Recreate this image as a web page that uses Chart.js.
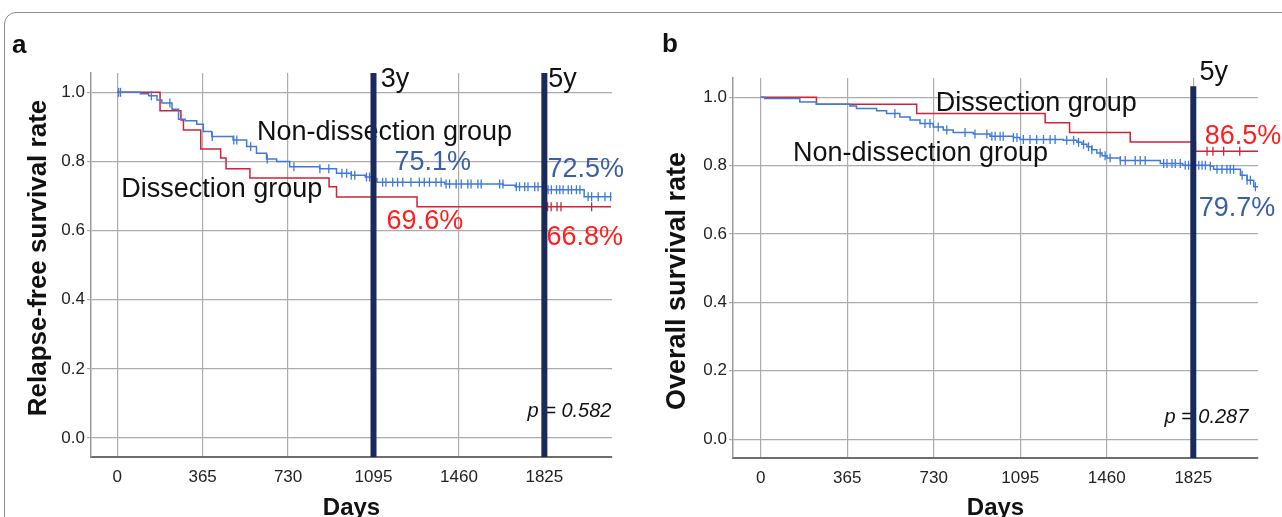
<!DOCTYPE html>
<html>
<head>
<meta charset="utf-8">
<script src="https://cdn.jsdelivr.net/npm/chart.js@4/dist/chart.umd.min.js"></script>
<style>
  body { margin: 0; background: #fff; width: 1282px; height: 517px; overflow: hidden; position: relative; font-family: "Liberation Sans", Arial, sans-serif; }
  #frame { position: absolute; left: 4px; top: 12px; width: 1320px; height: 600px; border: 1.5px solid #8c8c8c; border-radius: 12px; }
  .letter { position: absolute; font-weight: bold; font-size: 26px; color: #111; }
  canvas { position: absolute; top: 0; }
</style>
</head>
<body>
<div id="frame"></div>
<canvas id="chartA" width="640" height="517" style="left:0"></canvas>
<canvas id="chartB" width="642" height="517" style="left:640px"></canvas>
<div class="letter" style="left:12px; top:29px">a</div>
<div class="letter" style="left:662px; top:28px">b</div>
<script>
// ---- data (days, survival) ----
const dayTicks = [0, 365, 730, 1095, 1460, 1825];
const rateTicks = [0, 0.2, 0.4, 0.6, 0.8, 1.0];

// panel a: relapse-free survival
const aDissDays = [0, 183, 272, 283, 357, 442, 465, 567, 905, 937, 1281, 2110];
const aDissSurv = [1.0, 0.947, 0.920, 0.891, 0.836, 0.810, 0.779, 0.752, 0.727, 0.697, 0.669, 0.669];
const aDissCensor = [1839, 1854, 1879, 1896, 2027];

const aNonDays = [0, 99, 134, 170, 191, 234, 262, 290, 340, 368, 404, 495, 553, 595, 638, 681, 737, 865, 937, 1000, 1060, 1093, 1110, 1400, 1650, 1700, 1830, 1995, 2112];
const aNonSurv = [1.0, 0.996, 0.990, 0.978, 0.969, 0.951, 0.922, 0.918, 0.908, 0.887, 0.872, 0.862, 0.843, 0.824, 0.807, 0.800, 0.785, 0.779, 0.766, 0.760, 0.755, 0.751, 0.740, 0.735, 0.731, 0.727, 0.718, 0.698, 0.698];
const aNonCensor = [6, 14, 146, 225, 406, 498, 511, 570, 641, 755, 866, 904, 960, 980, 1000, 1015, 1065, 1078, 1091, 1134, 1148, 1177, 1198, 1220, 1255, 1291, 1312, 1334, 1362, 1384, 1405, 1420, 1448, 1470, 1498, 1512, 1541, 1555, 1634, 1648, 1705, 1719, 1741, 1755, 1784, 1798, 1827, 1841, 1855, 1877, 1891, 1905, 1927, 1941, 1962, 1977, 2012, 2027, 2055, 2084, 2108];

// panel b: overall survival
const bDissDays = [0, 235, 658, 1200, 1303, 1559, 1834, 2105];
const bDissSurv = [1.0, 0.979, 0.952, 0.925, 0.897, 0.869, 0.842, 0.842];
const bDissCensor = [1883, 1908, 1953, 2021];

const bNonDays = [0, 17, 165, 235, 376, 404, 489, 531, 587, 630, 672, 728, 770, 812, 897, 967, 1066, 1094, 1277, 1334, 1355, 1376, 1397, 1418, 1440, 1461, 1517, 1686, 1780, 1897, 1911, 2024, 2052, 2080, 2105];
const bNonSurv = [1.0, 0.996, 0.986, 0.979, 0.974, 0.967, 0.960, 0.952, 0.942, 0.933, 0.923, 0.913, 0.904, 0.897, 0.892, 0.886, 0.882, 0.876, 0.874, 0.868, 0.862, 0.855, 0.846, 0.837, 0.829, 0.822, 0.815, 0.806, 0.801, 0.798, 0.789, 0.772, 0.757, 0.738, 0.738];
const bNonCensor = [566, 693, 714, 749, 785, 862, 904, 954, 975, 989, 1010, 1023, 1066, 1081, 1108, 1136, 1164, 1193, 1221, 1242, 1291, 1320, 1341, 1362, 1383, 1397, 1432, 1453, 1474, 1517, 1538, 1580, 1601, 1622, 1700, 1714, 1735, 1749, 1770, 1791, 1805, 1826, 1848, 1862, 1876, 1897, 1925, 1946, 1967, 1981, 1995, 2031, 2052, 2066, 2087, 2101];

const RED = '#cc2438';
const BLUE = '#3f7ad8';
const NAVY = '#1a2a5c';
const FONT = '"Liberation Sans", Arial, sans-serif';

Chart.defaults.font.family = FONT;

function toPoints(days, surv) {
    return days.map((d, i) => ({ x: d, y: surv[i] }));
}

// value of the step curve at a given day
function survAt(days, surv, t) {
    let v = surv[0];
    for (let i = 0; i < days.length; i++) {
        if (days[i] <= t) v = surv[i];
    }
    return v;
}

function censorPoints(days, surv, marks) {
    return marks.map(t => ({ x: t, y: survAt(days, surv, t) }));
}

// free text: notes sit at data coordinates, the side title at a canvas position
function notesPlugin(items, side) {
    return {
        id: 'notes',
        beforeDatasetsDraw(chart) {
            const { ctx, scales: { x, y } } = chart;
            ctx.save();
            ctx.textAlign = 'left';
            ctx.textBaseline = 'middle';
            items.forEach(n => {
                ctx.font = n.font;
                ctx.fillStyle = n.color;
                ctx.fillText(n.text, x.getPixelForValue(n.x), y.getPixelForValue(n.y));
            });
            ctx.translate(side.cx, side.cy);
            ctx.rotate(-Math.PI / 2);
            ctx.textAlign = 'center';
            ctx.font = side.font;
            ctx.fillStyle = '#111';
            ctx.fillText(side.text, 0, 0);
            ctx.restore();
        }
    };
}

function kmLine(days, surv, color) {
    return {
        type: 'line',
        data: toPoints(days, surv),
        borderColor: color,
        borderWidth: 1.5,
        stepped: 'before',
        pointRadius: 0,
        fill: false,
        order: 2
    };
}

function censorSet(days, surv, marks, color) {
    return {
        type: 'scatter',
        data: censorPoints(days, surv, marks),
        borderColor: color,
        backgroundColor: color,
        pointStyle: 'line',
        rotation: 90,
        pointRadius: 4.5,
        borderWidth: 1.3,
        order: 1
    };
}

function refLine(day, yTop, yBottom) {
    return {
        type: 'line',
        data: [{ x: day, y: yBottom }, { x: day, y: yTop }],
        borderColor: NAVY,
        borderWidth: 6,
        pointRadius: 0,
        order: 0
    };
}

function makeChart(id, cfg) {
    new Chart(document.getElementById(id), {
        type: 'line',
        data: { datasets: cfg.datasets },
        options: {
            responsive: false,
            animation: false,
            devicePixelRatio: 1,
            layout: { padding: { top: cfg.top, right: cfg.right, bottom: 0, left: 0 } },
            plugins: { legend: { display: false }, tooltip: { enabled: false } },
            scales: {
                x: {
                    type: 'linear',
                    min: cfg.xMin,
                    max: cfg.xMax,
                    afterBuildTicks: s => { s.ticks = dayTicks.map(v => ({ value: v })); },
                    afterFit: s => { s.height = cfg.xHeight; },
                    ticks: { font: { size: 17 }, color: '#222', padding: 10, maxRotation: 0, callback: v => String(v) },
                    grid: { color: '#acacac', lineWidth: 1.2, drawTicks: false },
                    border: { color: '#6e6e6e', width: 2 },
                    title: { display: true, text: 'Days', font: { size: 24, weight: 'bold' }, color: '#111', padding: { top: 0, bottom: -6 } }
                },
                y: {
                    min: -0.055,
                    max: 1.056,
                    afterBuildTicks: s => { s.ticks = rateTicks.map(v => ({ value: v })); },
                    afterFit: s => { s.width = cfg.yWidth; },
                    ticks: { font: { size: 17 }, color: '#222', padding: 2, callback: v => v.toFixed(1) },
                    grid: { color: '#acacac', lineWidth: 1.2, tickLength: 4 },
                    border: { color: '#9a9a9a', width: 1.5 },
                    title: { display: false }
                }
            }
        },
        plugins: [notesPlugin(cfg.notes, cfg.side)]
    });
}

const big = '27px ' + FONT;
const ital = 'italic 20px ' + FONT;
const TXT_BLUE = '#3a5ea8';
const TXT_RED = '#ff1e1e';

makeChart('chartA', {
    top: 73, right: 28, xHeight: 60, yWidth: 91,
    xMin: -112, xMax: 2114,
    side: { text: 'Relapse-free survival rate', cx: 39, cy: 258, font: 'bold 26px ' + FONT },
    datasets: [
        refLine(1095, 1.056, -0.055),
        refLine(1825, 1.056, -0.055),
        censorSet(aNonDays, aNonSurv, aNonCensor, BLUE),
        censorSet(aDissDays, aDissSurv, aDissCensor, RED),
        kmLine(aNonDays, aNonSurv, BLUE),
        kmLine(aDissDays, aDissSurv, RED)
    ],
    notes: [
        { text: 'Non-dissection group', x: 597, y: 0.883, font: big, color: '#111' },
        { text: 'Dissection group', x: 17, y: 0.718, font: big, color: '#111' },
        { text: '75.1%', x: 1185, y: 0.796, font: big, color: TXT_BLUE },
        { text: '72.5%', x: 1838, y: 0.776, font: big, color: TXT_BLUE },
        { text: '69.6%', x: 1151, y: 0.625, font: big, color: TXT_RED },
        { text: '66.8%', x: 1834, y: 0.579, font: big, color: TXT_RED },
        { text: '3y', x: 1126, y: 1.036, font: big, color: '#111' },
        { text: '5y', x: 1842, y: 1.036, font: big, color: '#111' },
        { text: 'p = 0.582', x: 1753, y: 0.078, font: ital, color: '#111' }
    ]
});

makeChart('chartB', {
    top: 78, right: 24, xHeight: 59, yWidth: 93,
    xMin: -117, xMax: 2098,
    side: { text: 'Overall survival rate', cx: 38, cy: 281, font: 'bold 27px ' + FONT },
    datasets: [
        refLine(1825, 1.032, -0.056),
        censorSet(bNonDays, bNonSurv, bNonCensor, BLUE),
        censorSet(bDissDays, bDissSurv, bDissCensor, RED),
        kmLine(bNonDays, bNonSurv, BLUE),
        kmLine(bDissDays, bDissSurv, RED)
    ],
    notes: [
        { text: 'Dissection group', x: 738, y: 0.982, font: big, color: '#111' },
        { text: 'Non-dissection group', x: 136, y: 0.836, font: big, color: '#111' },
        { text: '86.5%', x: 1873, y: 0.886, font: big, color: TXT_RED },
        { text: '79.7%', x: 1848, y: 0.675, font: big, color: TXT_BLUE },
        { text: '5y', x: 1851, y: 1.073, font: big, color: '#111' },
        { text: 'p = 0.287', x: 1703, y: 0.064, font: ital, color: '#111' }
    ]
});
</script>
</body>
</html>
